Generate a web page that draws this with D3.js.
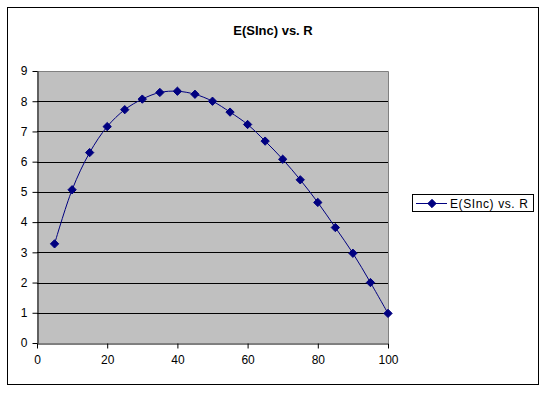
<!DOCTYPE html>
<html>
<head>
<meta charset="utf-8">
<script src="https://cdn.jsdelivr.net/npm/d3@7"></script>
<style>
  body { margin: 0; background: #fff; }
  svg { display: block; font-family: Arial, "Liberation Sans", sans-serif; }
</style>
</head>
<body>
<script>
// values
var rValues = [5, 10, 15, 20, 25, 30, 35, 40, 45, 50, 55, 60, 65, 70, 75, 80, 85, 90, 95, 100];
var eSInc = [3.28, 5.07, 6.3, 7.16, 7.72, 8.07, 8.29, 8.33, 8.23, 8.0, 7.64, 7.23, 6.68, 6.08, 5.4, 4.65, 3.82, 2.97, 2.0, 0.98];
var xTicks = [0, 20, 40, 60, 80, 100];
var yTicks = [0, 1, 2, 3, 4, 5, 6, 7, 8, 9];
var title = "E(SInc) vs. R";
var seriesName = "E(SInc) vs. R";

var width = 548,
    height = 394;
var plot = {left: 37, right: 388, top: 71, bottom: 343};

var svg = d3.select("body").append("svg")
    .attr("width", width)
    .attr("height", height);

// outer chart border
svg.append("rect")
    .attr("x", 7.5).attr("y", 7.5)
    .attr("width", 531).attr("height", 377)
    .attr("fill", "#fff")
    .attr("stroke", "#000")
    .attr("stroke-width", 1);

svg.append("text")
    .attr("x", 273)
    .attr("y", 35)
    .attr("text-anchor", "middle")
    .attr("font-size", "13px")
    .attr("font-weight", "bold")
    .text(title);

var x = d3.scaleLinear().domain([0, 100]).range([plot.left, plot.right]);
var y = d3.scaleLinear().domain([0, 9]).range([plot.bottom, plot.top]);

// plot area
svg.append("rect")
    .attr("x", plot.left).attr("y", plot.top)
    .attr("width", plot.right - plot.left)
    .attr("height", plot.bottom - plot.top)
    .attr("fill", "#c0c0c0");

// gray frame on top and right
svg.append("path")
    .attr("d", `M${plot.left},${plot.top + 0.5}H${plot.right + 0.5}V${plot.bottom}`)
    .attr("fill", "none")
    .attr("stroke", "#808080");

// gridlines
svg.append("g")
  .selectAll("line")
  .data(yTicks.filter(d => d > 0 && d < 9))
  .enter().append("line")
    .attr("x1", plot.left).attr("x2", plot.right)
    .attr("y1", d => Math.round(y(d)) + 0.5)
    .attr("y2", d => Math.round(y(d)) + 0.5)
    .attr("stroke", "#000");

var yAxis = svg.append("g")
    .attr("transform", `translate(${plot.left + 0.5},0)`)
    .call(d3.axisLeft(y).tickValues(yTicks).tickSize(5).tickSizeOuter(0).tickPadding(5));

var xAxis = svg.append("g")
    .attr("transform", `translate(0,${plot.bottom + 0.5})`)
    .call(d3.axisBottom(x).tickValues(xTicks).tickSize(5).tickSizeOuter(0).tickPadding(7));

[yAxis, xAxis].forEach(function(g) {
  g.selectAll("path, line").attr("stroke", "#000");
  g.selectAll("text")
      .attr("font-size", "12px")
      .attr("font-family", "Arial, 'Liberation Sans', sans-serif")
      .attr("fill", "#000");
});

var pts = rValues.map((r, i) => [r, eSInc[i]]);

svg.append("path")
    .datum(pts)
    .attr("fill", "none")
    .attr("stroke", "#000080")
    .attr("stroke-width", 1)
    .attr("d", d3.line()
        .x(d => x(d[0]))
        .y(d => y(d[1]))
        .curve(d3.curveCatmullRom.alpha(0.5)));

var diamond = d3.symbol().type(d3.symbolDiamond2).size(44);

svg.append("g")
  .selectAll("path")
  .data(pts)
  .enter().append("path")
    .attr("transform", d => `translate(${x(d[0])},${y(d[1])})`)
    .attr("d", diamond)
    .attr("fill", "#000080")
    .attr("stroke", "#000080")
    .attr("stroke-width", 1);

// legend
var legend = svg.append("g");
legend.append("rect")
    .attr("x", 412.5).attr("y", 194.5)
    .attr("width", 121).attr("height", 17)
    .attr("fill", "#fff")
    .attr("stroke", "#000");
legend.append("line")
    .attr("x1", 416).attr("x2", 447)
    .attr("y1", 203.5).attr("y2", 203.5)
    .attr("stroke", "#000080");
legend.append("path")
    .attr("transform", "translate(432,203.5)")
    .attr("d", diamond)
    .attr("fill", "#000080")
    .attr("stroke", "#000080");
legend.append("text")
    .attr("x", 450)
    .attr("y", 208)
    .attr("font-size", "12px")
    .attr("letter-spacing", "0.6px")
    .text(seriesName);
</script>
</body>
</html>
